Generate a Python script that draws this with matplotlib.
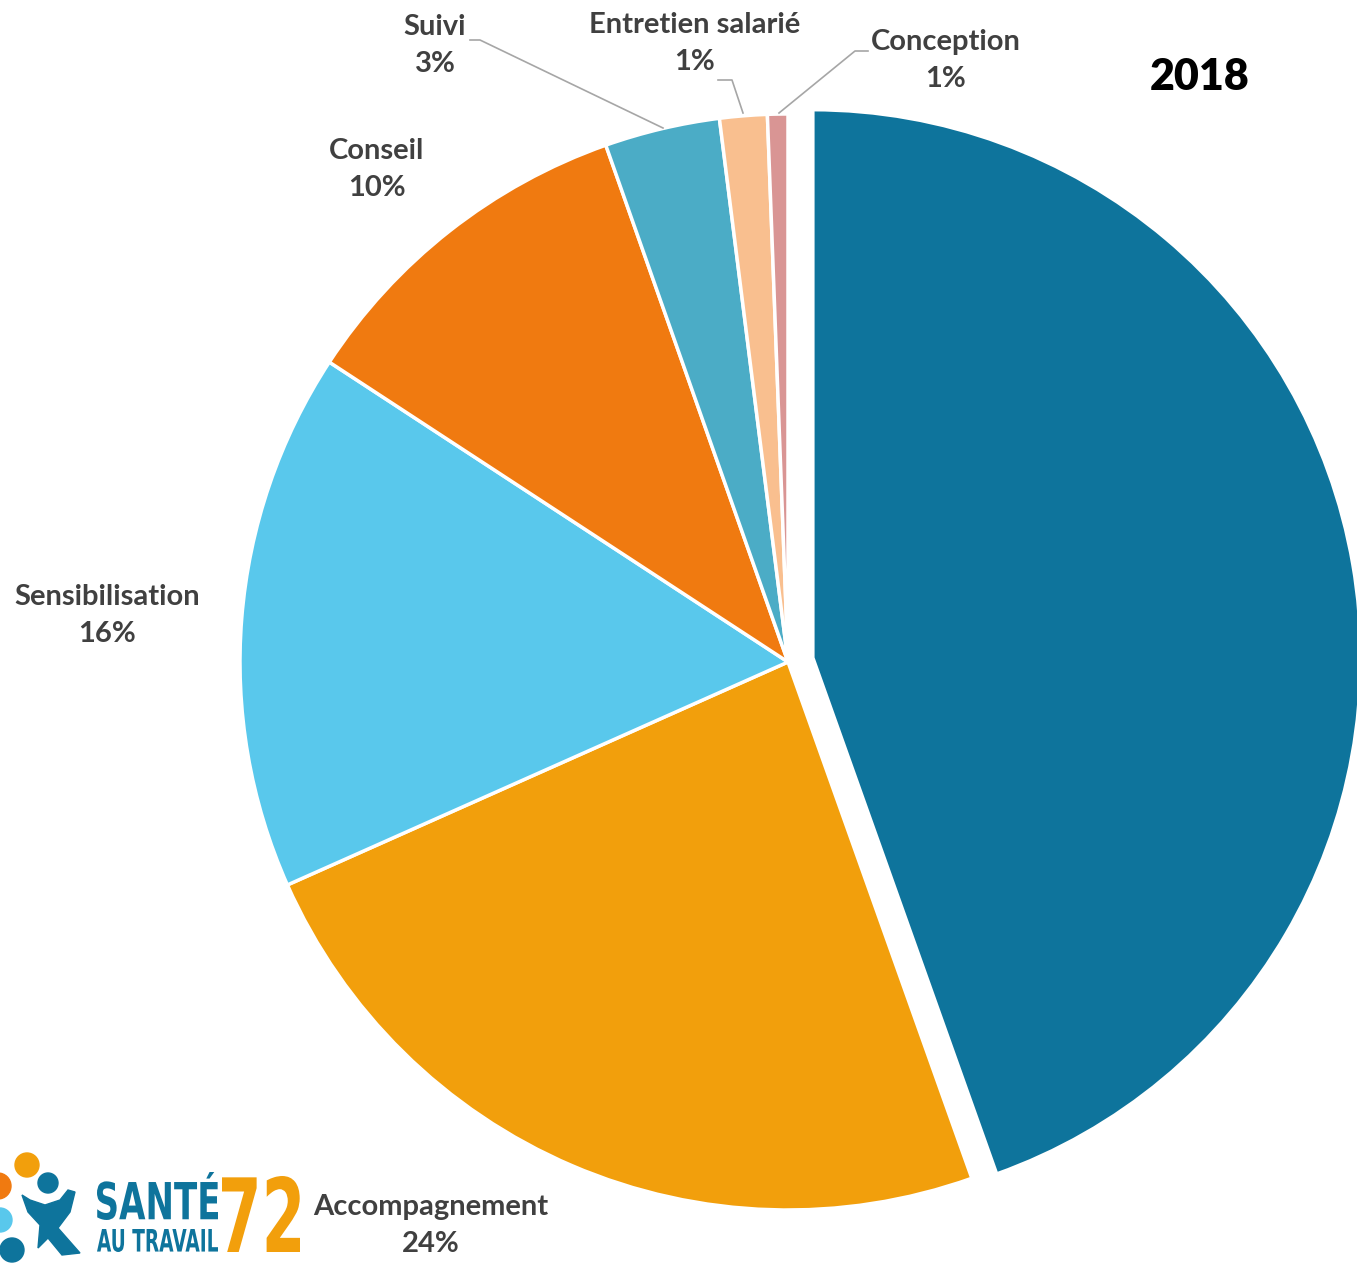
import matplotlib
matplotlib.use("Agg")
import matplotlib.pyplot as plt
from matplotlib.patches import Circle, Polygon, PathPatch
from matplotlib.textpath import TextPath
from matplotlib.font_manager import FontProperties
from matplotlib.transforms import Affine2D

W, H = 1357, 1263

# data (share of actions, %)
categories = ["Entreprise", "Accompagnement", "Sensibilisation", "Conseil",
              "Suivi", "Entretien salarié", "Conception"]
values = [44.6, 23.8, 15.9, 10.4, 3.4, 1.4, 0.6]
pct_labels = ["", "24%", "16%", "10%", "3%", "1%", "1%"]
colors = ["#0E749C", "#F29F0C", "#59C8EC", "#F07A10",
          "#4BACC6", "#F9BF8F", "#D99594"]
explode = [0.046, 0, 0, 0, 0, 0, 0]
year = "2018"

plt.rcParams["font.family"] = ["Lato", "DejaVu Sans"]

fig = plt.figure(figsize=(W / 100, H / 100), dpi=100)
ax = fig.add_axes([0, 0, 1, 1])

cx, cy, r = 788, H - 662, 548
ax.pie(values, colors=colors, explode=[e * r for e in explode], startangle=90,
       counterclock=False, center=(cx, cy), radius=r,
       wedgeprops=dict(edgecolor="white", linewidth=2.5))
ax.set_xlim(0, W)
ax.set_ylim(0, H)
ax.set_aspect("equal")
ax.axis("off")

# label placement (pixel coords, top-left origin)
label_pos = [None, (431, 1207), (107, 597), (377, 151), (435, 27),
             (695, 25), (946, 42)]
txt = "#404040"
for name, p, pos in zip(categories, pct_labels, label_pos):
    if pos is None:
        continue
    x, y = pos
    ax.text(x, H - y, name, ha="center", va="center", fontsize=21,
            fontweight="bold", color=txt)
    ax.text(x, H - y - 37, p, ha="center", va="center", fontsize=21,
            fontweight="bold", color=txt)

# leader lines
lc = "#A6A6A6"
ax.plot([470, 480, 663], [H - 40, H - 40, H - 128], color=lc, lw=1.2)
ax.plot([718, 732, 743], [H - 80, H - 80, H - 113], color=lc, lw=1.2)
ax.plot([868, 855, 779], [H - 51, H - 51, H - 113], color=lc, lw=1.2)

ax.text(1200, H - 77, year, ha="center", va="center", fontsize=31,
        fontweight="heavy", color="black")


# logo: text squeezed into a box (x0, top, x1, bottom in pixels)
def box_text(s, x0, top, x1, bottom, color):
    tp = TextPath((0, 0), s, size=100,
                  prop=FontProperties(family="DejaVu Sans", weight="bold"))
    bb = tp.get_extents()
    sx = (x1 - x0) / bb.width
    sy = (bottom - top) / bb.height
    t = (Affine2D().translate(-bb.x0, -bb.y0).scale(sx, sy)
         .translate(x0, H - bottom))
    ax.add_patch(PathPatch(t.transform_path(tp), color=color, lw=0))


blue, orange = "#0E749C", "#F29F0C"
ax.add_patch(Circle((27, H - 1165), 12, color=orange))
ax.add_patch(Circle((-2, H - 1186), 13, color="#F07A10"))
ax.add_patch(Circle((0, H - 1220), 12, color="#59C8EC"))
ax.add_patch(Circle((12, H - 1250), 12, color=blue))
ax.add_patch(Circle((48, H - 1183), 10, color=blue))
ax.add_patch(Polygon([(22, H - 1195), (30, H - 1200), (45, H - 1205),
                      (60, H - 1200), (68, H - 1190), (75, H - 1192),
                      (70, H - 1212), (58, H - 1228), (80, H - 1253),
                      (62, H - 1255), (48, H - 1238), (38, H - 1248),
                      (40, H - 1225), (28, H - 1212)],
                     closed=True, color=blue))
box_text("SANTÉ", 97, 1172, 218, 1220, blue)
box_text("AU TRAVAIL", 97, 1229, 218, 1252, blue)
box_text("72", 222, 1176, 300, 1252, orange)

fig.savefig("out.png", dpi=100)
